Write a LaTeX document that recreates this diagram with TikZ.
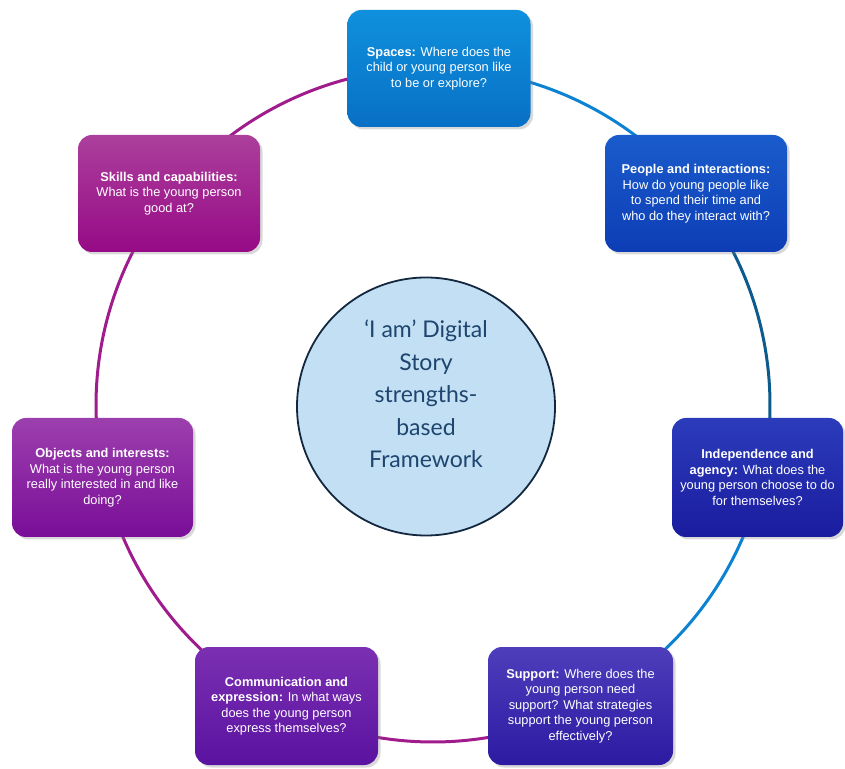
\documentclass[tikz,border=0pt]{standalone}
\usepackage{fontspec}
\setmainfont{Liberation Sans}
\newfontfamily\boxfont{Liberation Sans}
\newfontfamily\hubfont{Lato}
\usetikzlibrary{shadows}

% box colours (top / bottom of the vertical gradient)
\definecolor{spacesTop}{HTML}{0F90DD}\definecolor{spacesBot}{HTML}{0870C6}
\definecolor{peopleTop}{HTML}{1A5CCC}\definecolor{peopleBot}{HTML}{0D3DB5}
\definecolor{indepTop}{HTML}{2B3CBB}\definecolor{indepBot}{HTML}{1A1C9E}
\definecolor{supportTop}{HTML}{4E3EBB}\definecolor{supportBot}{HTML}{2C1AA2}
\definecolor{commTop}{HTML}{7B30B2}\definecolor{commBot}{HTML}{5A12A0}
\definecolor{objectsTop}{HTML}{9C3FAE}\definecolor{objectsBot}{HTML}{7A0E98}
\definecolor{skillsTop}{HTML}{AC3F9C}\definecolor{skillsBot}{HTML}{960A86}
% ring segment colours
\definecolor{ringLight}{HTML}{0B82D2}
\definecolor{ringDark}{HTML}{0D5A8C}
\definecolor{ringMag}{HTML}{A01C8C}
% hub
\definecolor{hubFill}{HTML}{C3DFF4}
\definecolor{hubLine}{HTML}{13283F}
\definecolor{hubText}{HTML}{1D456E}

\tikzset{
  ringseg/.style={line width=3pt},
  topic/.style={rounded corners=14pt, text=white, align=center,
    font={\boxfont\fontsize{12.8}{15.5}\selectfont}, inner sep=3pt,
    drop shadow={opacity=0.3, shadow xshift=2.5pt, shadow yshift=-2.5pt}},
  hub/.style={circle, fill=hubFill, draw=hubLine, line width=1.8pt,
    minimum size=258pt},
  hubtitle/.style={text=hubText, align=center,
    font={\hubfont\fontsize{23}{32.5}\selectfont}},
}

\begin{document}
\begin{tikzpicture}[x=1pt,y=1pt]
\useasboundingbox (0,0) rectangle (845,768);

% ring on which the topics sit
\coordinate (rc) at (433,363);
\draw[ringseg, ringLight] (rc) ++(38.9:337pt)  arc[start angle=38.9,  end angle=89,    radius=337pt];
\draw[ringseg, ringDark]  (rc) ++(-12.5:337pt) arc[start angle=-12.5, end angle=38.9,  radius=337pt];
\draw[ringseg, ringLight] (rc) ++(-64:337pt)   arc[start angle=-64,   end angle=-12.5, radius=337pt];
\draw[ringseg, ringMag]   (rc) ++(-116:337pt)  arc[start angle=-116,  end angle=-64,   radius=337pt];
\draw[ringseg, ringMag]   (rc) ++(192.3:337pt) arc[start angle=192.3, end angle=244,   radius=337pt];
\draw[ringseg, ringMag]   (rc) ++(141.2:337pt) arc[start angle=141.2, end angle=192.3, radius=337pt];
\draw[ringseg, ringMag]   (rc) ++(89:337pt)    arc[start angle=89,    end angle=141.2, radius=337pt];

% centre
\node[hub] (hub) at (426,361.5) {};
\node[hubtitle] (hubtext) at (426,374) {‘I am’ Digital\\Story\\strengths-\\based\\Framework};

% topics
\node[topic, top color=spacesTop, bottom color=spacesBot,
      minimum width=183pt, minimum height=117pt] (spaces) at (439,699.5)
  {\textbf{Spaces:} Where does the\\child or young person like\\to be or explore?};
\node[topic, top color=peopleTop, bottom color=peopleBot,
      minimum width=182pt, minimum height=117pt] (people) at (696,574.5)
  {\textbf{People and interactions:}\\How do young people like\\to spend their time and\\who do they interact with?};
\node[topic, top color=indepTop, bottom color=indepBot,
      minimum width=171pt, minimum height=119pt] (indep) at (757.5,290.5)
  {\textbf{Independence and}\\\textbf{agency:} What does the\\young person choose to do\\for themselves?};
\node[topic, top color=supportTop, bottom color=supportBot,
      minimum width=185pt, minimum height=118pt] (support) at (580.5,62)
  {\textbf{Support:} Where does the\\young person need\\support? What strategies\\support the young person\\effectively?};
\node[topic, top color=commTop, bottom color=commBot,
      minimum width=183pt, minimum height=118pt] (comm) at (286.5,62)
  {\textbf{Communication and}\\\textbf{expression:} In what ways\\does the young person\\express themselves?};
\node[topic, top color=objectsTop, bottom color=objectsBot,
      minimum width=181pt, minimum height=119pt] (objects) at (102.5,290.5)
  {\textbf{Objects and interests:}\\What is the young person\\really interested in and like\\doing?};
\node[topic, top color=skillsTop, bottom color=skillsBot,
      minimum width=182pt, minimum height=117pt] (skills) at (169,574.5)
  {\textbf{Skills and capabilities:}\\What is the young person\\good at?};
\end{tikzpicture}
\end{document}
